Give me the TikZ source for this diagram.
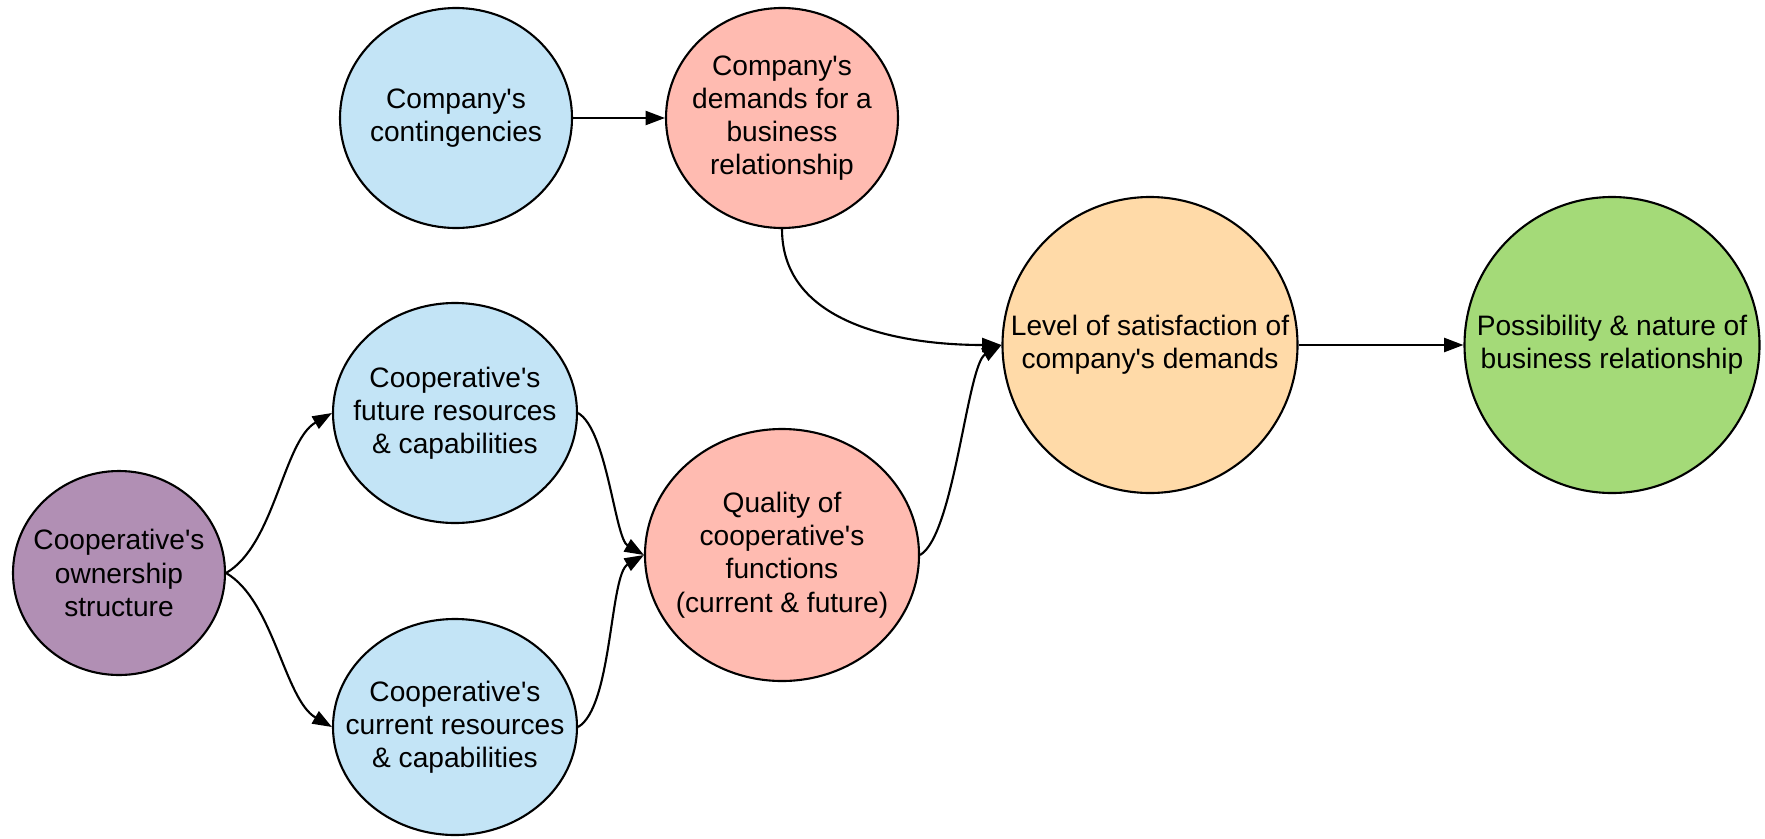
\documentclass[tikz,border=0pt]{standalone}
\usepackage{fontspec}
\newfontfamily\bubblefont{Liberation Sans}
\usetikzlibrary{arrows.meta, shapes.geometric}

\definecolor{bubbleblue}{RGB}{195,228,246}
\definecolor{bubblepink}{RGB}{255,187,177}
\definecolor{bubbleorange}{RGB}{255,218,168}
\definecolor{bubblegreen}{RGB}{164,218,120}
\definecolor{bubblepurple}{RGB}{177,143,180}

\begin{document}
\begin{tikzpicture}[x=0.2mm, y=-0.2mm,
		bubble/.style={draw, ellipse, line width=1.2pt, inner sep=0pt},
		bubbletext/.style={align=center, inner sep=0pt,
			font=\bubblefont\fontsize{16}{18.9}\selectfont},
		link/.style={-{Triangle[length=11pt, width=8pt]}, line width=1.2pt}]
		\def\wsmall{4.64cm} % Width of the small bubbles
		\def\hsmall{4.4cm}  % Height of the small bubbles
		\def\wbig{5.9cm}    % Width of the two bubbles on the right
		
		\useasboundingbox (0,0) rectangle (1765,838);
		
		% Company side (top row)
		\node[bubble, fill=bubbleblue, minimum width=\wsmall, minimum height=\hsmall,
		label={[bubbletext]center:{Company's\\contingencies}}] (cont) at (456,118) {};
		\node[bubble, fill=bubblepink, minimum width=\wsmall, minimum height=\hsmall,
		label={[bubbletext]center:{Company's\\demands for a\\business\\relationship}}]
		(dem) at (782,118) {};
		
		% Cooperative side
		\node[bubble, fill=bubblepurple, minimum width=4.24cm, minimum height=4.08cm,
		label={[bubbletext]center:{Cooperative's\\ownership\\structure}}]
		(own) at (119,573) {};
		\node[bubble, fill=bubbleblue, minimum width=4.88cm, minimum height=\hsmall,
		label={[bubbletext]center:{Cooperative's\\future resources\\\& capabilities}}]
		(fut) at (455,413) {};
		\node[bubble, fill=bubbleblue, minimum width=4.88cm, minimum height=4.32cm,
		label={[bubbletext]center:{Cooperative's\\current resources\\\& capabilities}}]
		(cur) at (455,727) {};
		\node[bubble, fill=bubblepink, minimum width=5.48cm, minimum height=5.04cm,
		label={[bubbletext]center:{Quality of\\cooperative's\\functions\\(current \& future)}}]
		(qual) at (782,555) {};
		
		% Outcome bubbles
		\node[bubble, fill=bubbleorange, minimum width=\wbig, minimum height=5.92cm,
		label={[bubbletext]center:{Level of satisfaction of\\company's demands}}]
		(lev) at (1150,345) {};
		\node[bubble, fill=bubblegreen, minimum width=\wbig, minimum height=5.92cm,
		label={[bubbletext]center:{Possibility \& nature of\\business relationship}}]
		(pos) at (1612,345) {};
		
		% Straight links
		\draw[link] (cont) -- (dem);
		\draw[link] (lev) -- (pos);
		
		% Curved links
		\draw[link] (dem.south) to[out=-90, in=180] (lev.west);
		\foreach \a/\b/\o/\i/\l in {own/fut/30/210/.75, own/cur/-30/150/.75,
			fut/qual/-30/150/.55, cur/qual/30/210/.55, qual/lev/30/210/.45} {
			\draw[link] (\a.east) to[out=\o, in=\i, looseness=\l] (\b.west);
		}
	\end{tikzpicture}
\end{document}
